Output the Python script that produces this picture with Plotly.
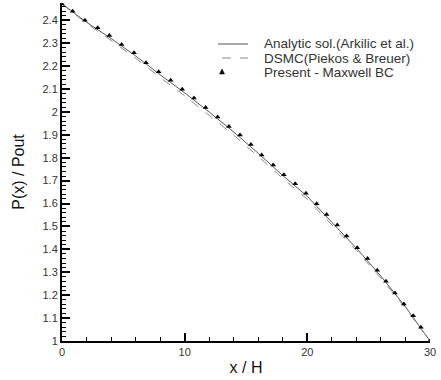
import plotly.graph_objects as go

# Present - Maxwell BC (markers)
x_present = [0.0, 0.87, 1.87, 2.91, 3.86, 4.86, 5.87, 6.85, 7.88, 8.86, 9.80, 10.76,
             11.71, 12.69, 13.61, 14.51, 15.4, 16.28, 17.22, 18.09, 19.01, 19.89,
             20.76, 21.57, 22.44, 23.2, 24.07, 24.91, 25.7, 26.41, 27.14, 27.87,
             28.63, 29.26, 30.0]
p_present = [2.471, 2.439, 2.400, 2.367, 2.333, 2.294, 2.258, 2.214, 2.175, 2.138,
             2.099, 2.060, 2.019, 1.978, 1.936, 1.899, 1.857, 1.812, 1.768, 1.725,
             1.686, 1.645, 1.599, 1.552, 1.506, 1.458, 1.407, 1.360, 1.309, 1.261,
             1.210, 1.161, 1.110, 1.060, 1.000]

# Analytic solution (Arkilic et al.)
x_analytic = [0, 2, 4, 6, 8, 10, 12, 14, 16, 18, 20, 22, 24, 26, 28, 30]
p_analytic = [2.471, 2.391, 2.320, 2.244, 2.162, 2.083, 1.999, 1.912, 1.819, 1.722,
              1.631, 1.519, 1.405, 1.283, 1.149, 1.000]

# DSMC (Piekos & Breuer)
x_dsmc = [0, 2, 4, 6, 8, 10, 12, 14, 16, 18, 20, 22, 24, 26, 28, 30]
p_dsmc = [2.471, 2.386, 2.312, 2.234, 2.150, 2.070, 1.985, 1.898, 1.805, 1.709,
          1.618, 1.508, 1.395, 1.275, 1.143, 1.000]

series_names = ["Analytic sol.(Arkilic et al.)", "DSMC(Piekos & Breuer)",
                "Present - Maxwell BC"]

W, H = 441, 380
ML, MR, MT, MB = 62, 11, 3, 39
PW, PH = W - ML - MR, H - MT - MB


def px(xp):
    return (xp - ML) / PW


def py(yp):
    return (H - MB - yp) / PH


fig = go.Figure()
fig.add_trace(go.Scatter(x=x_analytic, y=p_analytic, mode="lines",
                         name=series_names[0],
                         line=dict(color="#555555", width=1)))
fig.add_trace(go.Scatter(x=x_dsmc, y=p_dsmc, mode="lines",
                         name=series_names[1],
                         line=dict(color="#8a8a8a", width=1, dash="dash")))
fig.add_trace(go.Scatter(x=x_present, y=p_present, mode="markers",
                         name=series_names[2],
                         marker=dict(symbol="triangle-up", size=5, color="black")))

# hand-built legend (compact rows like the original)
rows_y = [44, 58, 72]
shapes = [
    dict(type="line", xref="paper", yref="paper", x0=px(218), x1=px(248),
         y0=py(rows_y[0]), y1=py(rows_y[0]), line=dict(color="#555555", width=1)),
    dict(type="line", xref="paper", yref="paper", x0=px(222), x1=px(248),
         y0=py(rows_y[1]), y1=py(rows_y[1]),
         line=dict(color="#8a8a8a", width=1, dash="dash")),
]
tx, ty = 222, rows_y[2]
tri = "M {:.4f} {:.4f} L {:.4f} {:.4f} L {:.4f} {:.4f} Z".format(
    px(tx), py(ty - 3), px(tx - 2.5), py(ty + 2), px(tx + 2.5), py(ty + 2))
shapes.append(dict(type="path", xref="paper", yref="paper", path=tri,
                   fillcolor="black", line=dict(color="black", width=0.5)))

annotations = []
for name, ry in zip(series_names, rows_y):
    annotations.append(dict(text=name, xref="paper", yref="paper",
                            x=px(262), y=py(ry), xanchor="left", yanchor="middle",
                            showarrow=False,
                            font=dict(size=13.5, color="#333",
                                      family="Liberation Sans, Arial, sans-serif")))

fig.update_layout(
    width=W, height=H,
    margin=dict(l=ML, r=MR, t=MT, b=MB),
    paper_bgcolor="white", plot_bgcolor="white",
    font=dict(family="Liberation Sans, Arial, sans-serif", size=11, color="#333"),
    showlegend=False,
    shapes=shapes,
    annotations=annotations,
)
fig.update_xaxes(
    range=[0, 30], tickvals=[0, 10, 20, 30], showgrid=False, zeroline=False,
    showline=True, linecolor="black", linewidth=2, automargin=False,
    ticks="inside", ticklen=8, tickwidth=2, tickcolor="black",
    minor=dict(dtick=2, ticks="inside", ticklen=4, tickwidth=1, tickcolor="black"),
    title=dict(text="x / H", font=dict(size=16, color="#111"), standoff=5),
)
fig.update_yaxes(
    range=[1, 2.475], dtick=0.1, tick0=1, showgrid=False, zeroline=False,
    showline=True, linecolor="black", linewidth=2, automargin=False,
    ticks="inside", ticklen=8, tickwidth=2, tickcolor="black",
    minor=dict(dtick=0.02, ticks="inside", ticklen=4, tickwidth=1, tickcolor="black"),
    tickformat="~g",
    title=dict(text="P(x) / Pout", font=dict(size=16, color="#111"), standoff=14),
)

fig.write_html("out.html",
               config={"displayModeBar": False},
               post_script="document.body.style.margin='0';"
                           "document.body.style.padding='0';")
